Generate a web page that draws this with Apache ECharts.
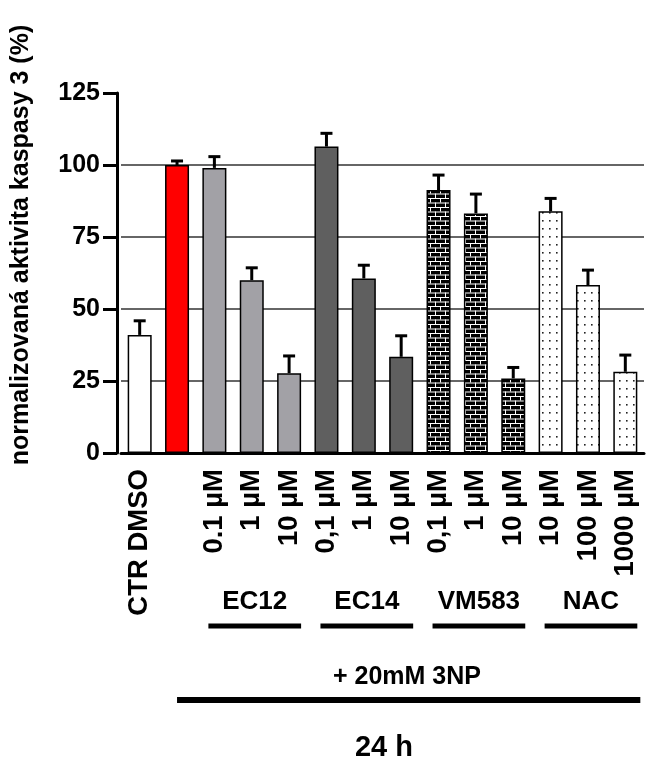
<!DOCTYPE html>
<html>
<head>
<meta charset="utf-8">
<script src="https://cdn.jsdelivr.net/npm/echarts@6/dist/echarts.min.js"></script>
<style>
  html, body { margin: 0; padding: 0; background: #fff; }
  #chart { width: 651px; height: 762px; }
</style>
</head>
<body>
<div id="chart"></div>
<script>
// kategorie na ose x (červený sloupec 3NP nemá popisek)
var categories = ['CTR DMSO', '', '0.1 µM', '1 µM', '10 µM', '0,1 µM', '1 µM', '10 µM',
  '0,1 µM', '1 µM', '10 µM', '10 µM', '100 µM', '1000 µM'];
// průměry a SEM (%)
var means = [41, 100, 99, 60, 27.7, 106.4, 60.6, 33.4, 91.3, 83.2, 25.9, 83.9, 58.3, 28.2];
var errors = [4.9, 1.4, 3.9, 4.3, 6, 4.6, 4.6, 7.3, 5.2, 6.7, 3.8, 4.5, 5.2, 5.8];
var groupNames = ['EC12', 'EC14', 'VM583', 'NAC'];
var groupRanges = [[2, 4], [5, 7], [8, 10], [11, 13]];
var yTicks = [0, 25, 50, 75, 100, 125];

var FONT = "'Liberation Sans', Arial, sans-serif";

/** vzor cihly */
function brickPattern() {
  var c = document.createElement('canvas');
  c.width = 10;
  c.height = 9;
  var ctx = c.getContext('2d');
  ctx.fillStyle = '#000';
  ctx.fillRect(0, 0, 10, 9);
  ctx.fillStyle = '#fff';
  ctx.fillRect(0, 0, 10, 1);
  ctx.fillRect(0, 4.5, 10, 1);
  ctx.fillRect(0, 0, 1, 4.5);
  ctx.fillRect(5, 4.5, 1, 4.5);
  return { image: c, repeat: 'repeat' };
}

/** vzor teček */
function dotPattern() {
  var c = document.createElement('canvas');
  c.width = 7;
  c.height = 8;
  var ctx = c.getContext('2d');
  ctx.fillStyle = '#fff';
  ctx.fillRect(0, 0, 7, 8);
  ctx.fillStyle = '#222';
  ctx.fillRect(3, 4, 1.6, 1.6);
  return { image: c, repeat: 'repeat' };
}

var brick = brickPattern();
var dots = dotPattern();
var fills = ['#ffffff', '#ff0000', '#a2a1a6', '#a2a1a6', '#a2a1a6', '#5f5f5f', '#5f5f5f', '#5f5f5f',
  brick, brick, brick, dots, dots, dots];

var chart = echarts.init(document.getElementById('chart'), null, { renderer: 'canvas' });

var barData = means.map(function (v, i) {
  return { value: v, itemStyle: { color: fills[i] } };
});
var errData = means.map(function (v, i) {
  return [i, v, v + errors[i]];
});

var option = {
  animation: false,
  textStyle: { fontFamily: FONT },
  grid: { left: 121, top: 93, width: 523, bottom: 309 },
  xAxis: {
    type: 'category',
    data: categories,
    axisLine: { lineStyle: { color: '#000', width: 3 } },
    axisTick: { alignWithLabel: true, length: 11, lineStyle: { color: '#000', width: 3 } },
    axisLabel: {
      rotate: 90, interval: 0, margin: 16,
      color: '#000', fontSize: 27.5, fontWeight: 'bold', fontFamily: FONT
    },
    splitLine: { show: false }
  },
  yAxis: {
    type: 'value',
    min: 0, max: 125, interval: 25,
    offset: 4,
    axisLine: { show: true, lineStyle: { color: '#000', width: 3 } },
    axisTick: { show: true, length: 14, lineStyle: { color: '#000', width: 3 } },
    axisLabel: {
      margin: 17, color: '#000', fontSize: 25, fontWeight: 'bold', fontFamily: FONT,
      formatter: function (v) { return yTicks.indexOf(v) >= 0 ? String(v) : ''; }
    },
    splitLine: {
      show: true, showMinLine: false, showMaxLine: false,
      lineStyle: { color: '#333', width: 1.5 }
    }
  },
  series: [{
    type: 'bar',
    data: barData,
    barWidth: 24,
    z: 3,
    itemStyle: { borderColor: '#000', borderWidth: 1.5 }
  }, {
    type: 'custom',
    z: 4,
    data: errData,
    renderItem: function (params, api) {
      var base = api.coord([api.value(0), api.value(1)]);
      var top = api.coord([api.value(0), api.value(2)]);
      var half = 6;
      return {
        type: 'group',
        children: [{
          type: 'line',
          shape: { x1: base[0], y1: base[1], x2: top[0], y2: top[1] },
          style: { stroke: '#000', lineWidth: 3 }
        }, {
          type: 'line',
          shape: { x1: top[0] - half, y1: top[1], x2: top[0] + half, y2: top[1] },
          style: { stroke: '#000', lineWidth: 3 }
        }]
      };
    }
  }]
};
chart.setOption(option);

// popisky skupin a čáry pod osou
function cx(i) {
  return chart.convertToPixel({ xAxisIndex: 0 }, i);
}
var graphics = [];
graphics.push({
  type: 'text',
  x: 21, y: 245,
  rotation: Math.PI / 2,
  style: {
    text: 'normalizovaná aktivita kaspasy 3 (%)', fill: '#000', font: 'bold 25px ' + FONT,
    textAlign: 'center', textVerticalAlign: 'middle'
  }
});
groupNames.forEach(function (name, g) {
  var x1 = cx(groupRanges[g][0]) - 6;
  var x2 = cx(groupRanges[g][1]) + 12;
  graphics.push({
    type: 'text',
    x: (x1 + x2) / 2, y: 602,
    style: {
      text: name, fill: '#000', font: 'bold 26px ' + FONT,
      textAlign: 'center', textVerticalAlign: 'middle'
    }
  });
  graphics.push({
    type: 'rect',
    shape: { x: x1, y: 623.5, width: x2 - x1, height: 5 },
    style: { fill: '#000' }
  });
});
var lx1 = cx(1);
var lx2 = cx(categories.length - 1) + 15;
graphics.push({
  type: 'text',
  x: 407, y: 677,
  style: {
    text: '+ 20mM 3NP', fill: '#000', font: 'bold 25px ' + FONT,
    textAlign: 'center', textVerticalAlign: 'middle'
  }
});
graphics.push({
  type: 'rect',
  shape: { x: lx1, y: 697, width: lx2 - lx1, height: 6 },
  style: { fill: '#000' }
});
graphics.push({
  type: 'text',
  x: 384, y: 748,
  style: {
    text: '24 h', fill: '#000', font: 'bold 29px ' + FONT,
    textAlign: 'center', textVerticalAlign: 'middle'
  }
});
chart.setOption({ graphic: graphics });
</script>
</body>
</html>
